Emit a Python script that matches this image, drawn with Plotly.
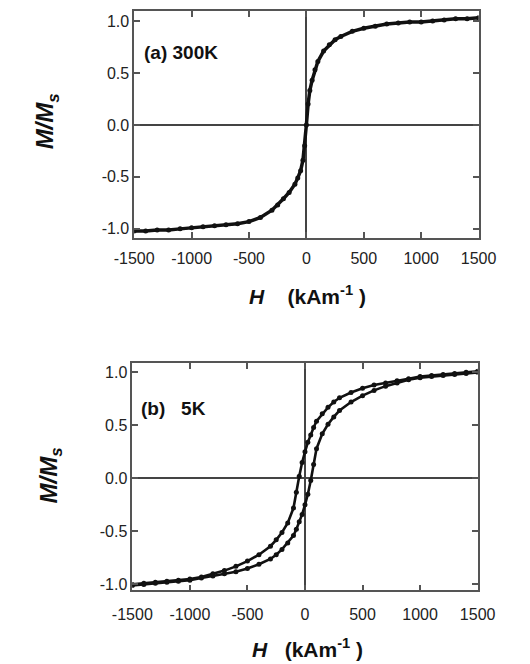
import plotly.graph_objects as go

# ---- data ----
# (a) 300 K : single, essentially reversible magnetisation curve
H_300 = [-1500, -1400, -1300, -1200, -1100, -1000, -900, -800, -700, -600, -500, -400,
         -300, -250, -200, -150, -100, -75, -50, -30, -15, 0, 15, 30, 50, 75, 100, 150,
         200, 250, 300, 400, 500, 600, 700, 800, 900, 1000, 1100, 1200, 1300, 1400, 1500]
M_300 = [-1.02, -1.02, -1.01, -1.01, -1.00, -0.99, -0.98, -0.97, -0.96, -0.95, -0.93, -0.89,
         -0.82, -0.77, -0.71, -0.65, -0.57, -0.51, -0.44, -0.34, -0.20, 0.00, 0.20, 0.33, 0.43,
         0.53, 0.61, 0.71, 0.77, 0.82, 0.85, 0.90, 0.93, 0.95, 0.97, 0.98, 0.99, 0.99, 1.00,
         1.01, 1.02, 1.02, 1.03]

# (b) 5 K : hysteresis loop, descending branch
H_5K_down = [1500, 1400, 1300, 1200, 1100, 1000, 900, 800, 700, 600, 500, 400, 300, 250, 200,
             150, 100, 75, 50, 25, 0, -25, -50, -75, -100, -150, -200, -250, -300, -400, -500,
             -600, -700, -800, -900, -1000, -1100, -1200, -1300, -1400, -1500]
M_5K_down = [1.01, 1.00, 0.99, 0.98, 0.97, 0.96, 0.94, 0.92, 0.90, 0.88, 0.85, 0.81, 0.76, 0.72,
             0.67, 0.61, 0.54, 0.48, 0.41, 0.34, 0.25, 0.15, 0.02, -0.13, -0.28, -0.42, -0.51,
             -0.58, -0.64, -0.72, -0.78, -0.83, -0.87, -0.90, -0.93, -0.95, -0.96, -0.97, -0.98,
             -0.99, -1.00]
# ascending branch
H_5K_up = [-1500, -1400, -1300, -1200, -1100, -1000, -900, -800, -700, -600, -500, -400, -300,
           -250, -200, -150, -100, -75, -50, -25, 0, 25, 50, 75, 100, 150, 200, 250, 300, 400,
           500, 600, 700, 800, 900, 1000, 1100, 1200, 1300, 1400, 1500]
M_5K_up = [-1.01, -1.00, -0.99, -0.98, -0.97, -0.96, -0.94, -0.92, -0.90, -0.88, -0.85, -0.81,
           -0.76, -0.72, -0.67, -0.61, -0.54, -0.48, -0.41, -0.34, -0.25, -0.15, -0.02, 0.13,
           0.28, 0.42, 0.51, 0.58, 0.64, 0.72, 0.78, 0.83, 0.87, 0.90, 0.93, 0.95, 0.96, 0.97,
           0.98, 0.99, 1.00]

x_ticks = [-1500, -1000, -500, 0, 500, 1000, 1500]
x_tick_text = ["-1500", "-1000", "-500", "0", "500", "1000", "1500"]
y_ticks = [-1.0, -0.5, 0.0, 0.5, 1.0]
y_tick_text = ["-1.0", "-0.5", "0.0", "0.5", "1.0"]

W, HGT = 530, 664
FONT = "Liberation Sans, Arial, sans-serif"

fig = go.Figure()

def curve(x, y, xa, ya, lw):
    fig.add_trace(go.Scatter(
        x=x, y=y, xaxis=xa, yaxis=ya, mode="lines+markers",
        line=dict(color="#111111", width=lw),
        marker=dict(color="#111111", size=5, symbol="circle"),
        showlegend=False, hoverinfo="skip"))

curve(H_300, M_300, "x", "y", 3.5)
curve(H_5K_down, M_5K_down, "x2", "y2", 2.6)
curve(H_5K_up, M_5K_up, "x2", "y2", 2.6)

axis_common = dict(
    showgrid=False, zeroline=True, zerolinecolor="#444444", zerolinewidth=1.5,
    showline=True, linecolor="#555555", linewidth=1.5, mirror="ticks",
    ticks="inside", ticklen=6, tickwidth=1.5, tickcolor="#555555",
    tickfont=dict(family=FONT, size=16, color="#222222"),
)

fig.update_layout(
    width=W, height=HGT,
    margin=dict(l=0, r=0, t=0, b=0),
    paper_bgcolor="white", plot_bgcolor="white",
    xaxis=dict(domain=[123 / W, 494 / W], range=[-1500, 1500], tickvals=x_ticks,
               ticktext=x_tick_text, ticklabelstandoff=5, anchor="y", **axis_common),
    yaxis=dict(domain=[1 - 239 / HGT, 1 - 11 / HGT], range=[-1.087, 1.096],
               tickvals=y_ticks, ticktext=y_tick_text, anchor="x", **axis_common),
    xaxis2=dict(domain=[121 / W, 493 / W], range=[-1500, 1500], tickvals=x_ticks,
                ticktext=x_tick_text, ticklabelstandoff=9, anchor="y2", **axis_common),
    yaxis2=dict(domain=[1 - 593 / HGT, 1 - 365 / HGT], range=[-1.056, 1.085],
                tickvals=y_ticks, ticktext=y_tick_text, anchor="x2", **axis_common),
)

def ann(text, x, y, size, xanchor="center", angle=0):
    fig.add_annotation(text=text, x=x / W, y=1 - y / HGT, xref="paper", yref="paper",
                       showarrow=False, xanchor=xanchor, yanchor="middle", textangle=angle,
                       font=dict(family=FONT, size=size, color="#111111"))

# panel labels
ann("<b>(a) 300K</b>", 131, 53, 19, xanchor="left")
ann("<b>(b)   5K</b>", 128, 410, 19, xanchor="left")

# axis titles
ann("<b><i>H</i>    (kAm<sup>-1</sup> )</b>", 310, 296, 21)
ann("<b><i>H</i>   (kAm<sup>-1</sup> )</b>", 310, 651, 21)
yt = "<b><i>M/M<sub>s</sub></i></b>"
ann(yt, 29, 122, 24, angle=-90)
ann(yt, 33, 478, 24, angle=-90)

fig.write_html("out.html")
